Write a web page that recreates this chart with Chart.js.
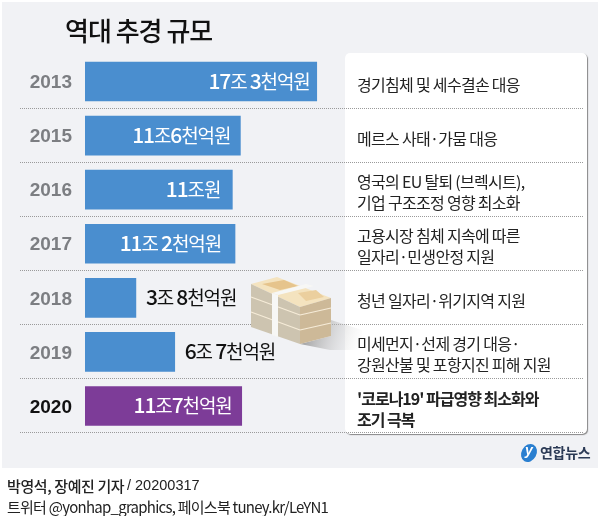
<!DOCTYPE html>
<html>
<head>
<meta charset="utf-8">
<script src="https://cdn.jsdelivr.net/npm/chart.js@4"></script>
<style>
  html, body { margin: 0; padding: 0; background: #fff; }
  canvas { display: block; }
</style>
</head>
<body>
<canvas id="chart" width="600" height="516"></canvas>
<script>
const years = ["2013", "2015", "2016", "2017", "2018", "2019", "2020"];
const budgets = [17.3, 11.6, 11, 11.2, 3.8, 6.7, 11.7];
const budgetLabels = ["17조 3천억원", "11조6천억원", "11조원", "11조 2천억원", "3조 8천억원", "6조 7천억원", "11조7천억원"];
const notes = [
  ["경기침체 및 세수결손 대응"],
  ["메르스 사태·가뭄 대응"],
  ["영국의 EU 탈퇴 (브렉시트),", "기업 구조조정 영향 최소화"],
  ["고용시장 침체 지속에 따른", "일자리·민생안정 지원"],
  ["청년 일자리·위기지역 지원"],
  ["미세먼지·선제 경기 대응·", "강원산불 및 포항지진 피해 지원"],
  ["'코로나19' 파급영향 최소화와", "조기 극복"]
];
const barColors = ["#4a8ecf", "#4a8ecf", "#4a8ecf", "#4a8ecf", "#4a8ecf", "#4a8ecf", "#7d3c98"];

const KR = '"Noto Sans CJK KR"';
const LATIN = '"Liberation Sans"';

function text(ctx, str, x, y, font, color, align, spacing) {
  ctx.font = font;
  ctx.fillStyle = color;
  ctx.textAlign = align || "left";
  ctx.textBaseline = "middle";
  ctx.letterSpacing = (spacing || 0) + "px";
  ctx.fillText(str, x, y);
  ctx.letterSpacing = "0px";
}

// digits come out heavier than the hangul in the bar labels
function valueLabel(ctx, str, x, y, color, align) {
  const runs = str.match(/\d+|[^\d]+/g);
  const fontFor = r => /\d/.test(r) ? `500 21px ${KR}` : `400 19px ${KR}`;
  ctx.letterSpacing = "-1.1px";
  let w = 0;
  runs.forEach(r => { ctx.font = fontFor(r); w += ctx.measureText(r).width; });
  let cx = align === "right" ? x - w : x;
  ctx.textAlign = "left";
  ctx.textBaseline = "alphabetic";
  ctx.fillStyle = color;
  runs.forEach(r => {
    ctx.font = fontFor(r);
    ctx.fillText(r, cx, y + 7);
    cx += ctx.measureText(r).width;
  });
  ctx.letterSpacing = "0px";
}

function poly(ctx, pts, fill) {
  ctx.beginPath();
  pts.forEach((p, i) => i ? ctx.lineTo(p[0], p[1]) : ctx.moveTo(p[0], p[1]));
  ctx.closePath();
  ctx.fillStyle = fill;
  ctx.fill();
}

// little stack of banknotes beside the 2018 bar
function moneyStack(ctx) {
  const shadow = ctx.createLinearGradient(300, 325, 362, 345);
  shadow.addColorStop(0, "#8e8e8e");
  shadow.addColorStop(1, "rgba(225,225,225,0)");
  poly(ctx, [[300, 344], [331, 336], [331, 320], [362, 330], [362, 350], [330, 350]], shadow);
  poly(ctx, [[251, 284], [277, 277], [331, 298], [300, 307]], "#f4e3bf");
  poly(ctx, [[262, 284], [284, 280], [298, 286], [280, 290]], "#e6c48c");
  poly(ctx, [[298, 293], [316, 290], [324, 297], [306, 301]], "#ebcf9e");
  poly(ctx, [[251, 284], [300, 307], [300, 344], [251, 327]], "#cdc4b0");
  poly(ctx, [[300, 307], [331, 298], [331, 336], [300, 344]], "#cdb998");
  ctx.strokeStyle = "#f6ecd8";
  ctx.lineWidth = 1.2;
  [[251, 297, 300, 315], [251, 312, 300, 330], [300, 315, 331, 308], [300, 330, 331, 323]].forEach(l => {
    ctx.beginPath(); ctx.moveTo(l[0], l[1]); ctx.lineTo(l[2], l[3]); ctx.stroke();
  });
  poly(ctx, [[272, 293], [278, 295], [278, 337], [272, 335]], "#f7f7f5");
  poly(ctx, [[272, 293], [278, 295], [314, 286], [306, 284]], "#f7f7f5");
}

const backdrop = {
  id: "backdrop",
  beforeDraw(chart) {
    const { ctx, scales: { y } } = chart;
    ctx.save();
    ctx.fillStyle = "#f1f2f5";
    ctx.fillRect(2, 2, 596, 466);
    ctx.beginPath();
    ctx.roundRect(345, 53, 242, 381, 5);
    ctx.shadowColor = "rgba(90,90,90,0.7)";
    ctx.shadowOffsetX = 1;
    ctx.shadowOffsetY = 1;
    ctx.shadowBlur = 1;
    ctx.fillStyle = "#fff";
    ctx.fill();
    ctx.restore();

    ctx.save();
    ctx.strokeStyle = "#9a9a9a";
    ctx.lineWidth = 1;
    ctx.setLineDash([1, 1]);
    years.forEach((yr, i) => {
      const py = Math.floor(y.getPixelForValue(i) + 27) + 0.5;
      ctx.beginPath();
      ctx.moveTo(20, py);
      ctx.lineTo(583, py);
      ctx.stroke();
    });
    ctx.restore();
  },
  afterDatasetsDraw(chart) {
    const { ctx, scales: { y } } = chart;
    const bars = chart.getDatasetMeta(0).data;
    ctx.save();
    moneyStack(ctx);
    const shifts = [-7, -10, -12, -14, 10, 10, -10];
    bars.forEach((bar, i) => {
      const inside = shifts[i] < 0;
      valueLabel(ctx, budgetLabels[i], bar.x + shifts[i], bar.y, inside ? "#fff" : "#111", inside ? "right" : "left");
    });
    notes.forEach((lines, i) => {
      const last = i === notes.length - 1;
      const mid = y.getPixelForValue(i) + 3;
      lines.forEach((line, j) => {
        const ly = mid + (j - (lines.length - 1) / 2) * 21;
        text(ctx, line, 357, ly, `${last ? 700 : 400} 16px ${KR}`, "#222", "left", last ? -1 : -0.7);
      });
    });
    text(ctx, "역대 추경 규모", 65, 31, `500 26px ${KR}`, "#111", "left", -1);
    text(ctx, "박영석, 장예진 기자", 7, 486, `500 15px ${KR}`, "#222", "left", -0.4);
    text(ctx, "/ 20200317", 127, 486, `400 14.5px ${LATIN}`, "#222", "left");
    text(ctx, "트위터 @yonhap_graphics, 페이스북 tuney.kr/LeYN1", 7, 507, `400 15px ${KR}`, "#222", "left", -0.75);

    // yonhap logo
    ctx.beginPath();
    ctx.ellipse(529, 453, 7.5, 9.5, 0.5, 0, Math.PI * 2);
    ctx.fillStyle = "#2a7fd0";
    ctx.fill();
    text(ctx, "y", 529, 451, `italic 700 14px ${LATIN}`, "#fff", "center");
    text(ctx, "연합뉴스", 540, 453, `700 14px ${KR}`, "#2b3a55", "left", -0.3);
    ctx.restore();
  }
};

new Chart(document.getElementById("chart"), {
  type: "bar",
  data: {
    labels: years,
    datasets: [{
      data: budgets,
      backgroundColor: barColors,
      barThickness: 39,
      borderWidth: 0
    }]
  },
  options: {
    indexAxis: "y",
    responsive: false,
    animation: false,
    devicePixelRatio: 1,
    layout: { padding: { left: 0, right: 6, top: 54.5, bottom: 83 } },
    plugins: { legend: { display: false }, tooltip: { enabled: false } },
    scales: {
      x: { display: false, min: 0, max: 38 },
      y: {
        afterFit(scale) { scale.width = 85; },
        border: { display: false },
        grid: { display: false },
        ticks: {
          padding: 5,
          labelOffset: 1.5,
          color: c => c.index === years.length - 1 ? "#111" : "#7c7e82",
          font: { family: LATIN, size: 19, weight: "bold" }
        }
      }
    }
  },
  plugins: [backdrop]
});
</script>
</body>
</html>
